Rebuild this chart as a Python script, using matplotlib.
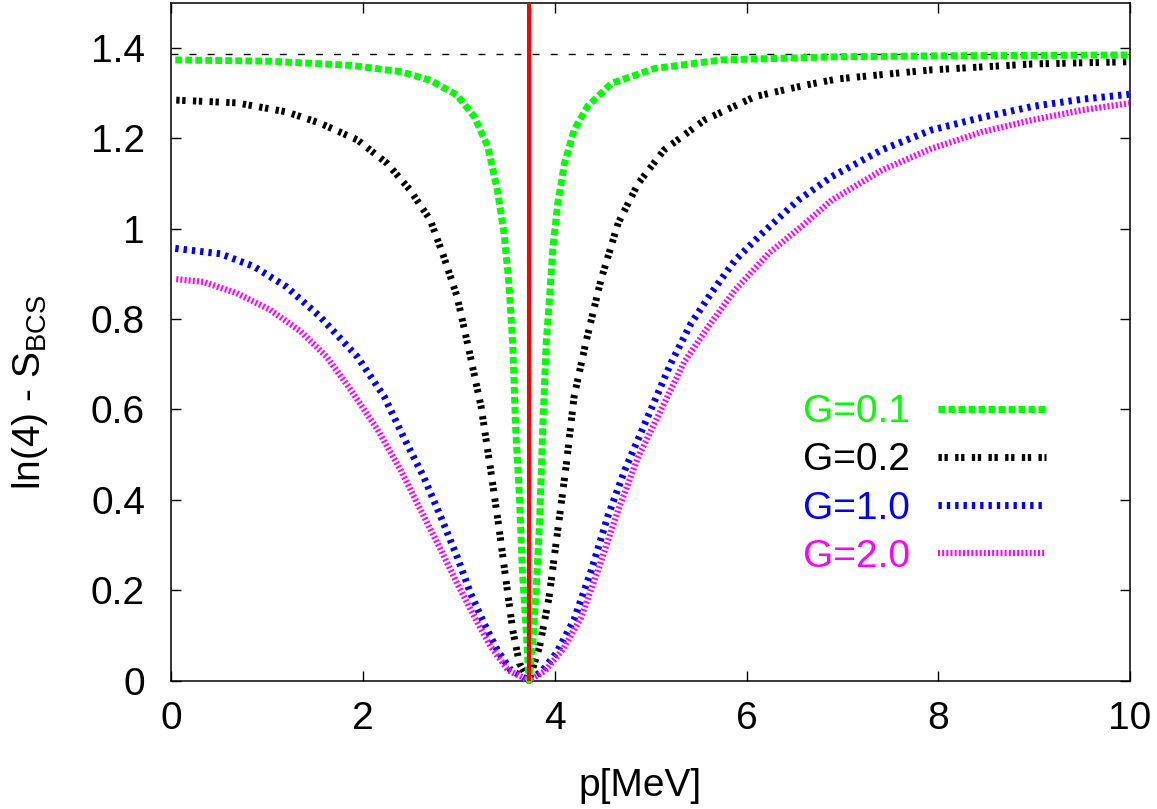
import numpy as np
import matplotlib
matplotlib.use('Agg')
import matplotlib.pyplot as plt

plt.rcParams['font.family'] = ['Liberation Sans', 'DejaVu Sans']
plt.rcParams['lines.scale_dashes'] = False

# values
p_g01 = [0.04, 1.03, 1.87, 2.39, 2.70, 2.98, 3.16, 3.30, 3.40, 3.47, 3.52, 3.56, 3.59, 3.63,
         3.66, 3.70, 3.73, 3.77, 3.80, 3.84, 3.87, 3.91, 3.94, 3.98, 4.03, 4.10, 4.20, 4.34,
         4.59, 5.04, 5.74, 6.96, 8.0, 9.0, 10.0]
s_g01 = [1.373, 1.370, 1.361, 1.347, 1.328, 1.295, 1.247, 1.181, 1.085, 0.989, 0.879, 0.745,
         0.561, 0.407, 0.244, 0.112, 0.0, 0.09, 0.185, 0.35, 0.54, 0.75, 0.834, 0.960, 1.056,
         1.144, 1.218, 1.270, 1.321, 1.354, 1.373, 1.380, 1.382, 1.383, 1.384]

p_g02 = [0.05, 0.68, 1.20, 1.55, 1.94, 2.25, 2.49, 2.70, 2.84, 2.98, 3.10, 3.23, 3.33, 3.42,
         3.49, 3.56, 3.63, 3.73, 3.84, 3.94, 4.03, 4.12, 4.20, 4.32, 4.48, 4.66, 4.87, 5.14,
         5.56, 6.09, 6.61, 6.95, 7.93, 8.98, 9.99]
s_g02 = [1.284, 1.278, 1.258, 1.233, 1.196, 1.144, 1.085, 1.019, 0.938, 0.849, 0.735, 0.606,
         0.466, 0.333, 0.222, 0.112, 0.038, 0.0, 0.075, 0.185, 0.333, 0.48, 0.628, 0.745,
         0.886, 1.012, 1.100, 1.174, 1.240, 1.292, 1.317, 1.331, 1.351, 1.364, 1.369]

p_g10 = [0.04, 0.51, 0.86, 1.20, 1.55, 1.94, 2.22, 2.42, 2.63, 2.81, 2.98, 3.12, 3.26, 3.40,
         3.54, 3.73, 3.87, 4.02, 4.20, 4.38, 4.55, 4.73, 4.97, 5.21, 5.42, 5.63, 5.88, 6.16,
         6.54, 6.89, 7.41, 7.93, 8.46, 8.98, 9.50, 9.99]
s_g10 = [0.956, 0.944, 0.916, 0.871, 0.805, 0.716, 0.628, 0.539, 0.451, 0.362, 0.274, 0.193,
         0.127, 0.067, 0.023, 0.0, 0.022, 0.062, 0.135, 0.244, 0.362, 0.466, 0.584, 0.702,
         0.790, 0.857, 0.930, 0.989, 1.063, 1.115, 1.174, 1.218, 1.246, 1.270, 1.286, 1.297]

p_g20 = [0.05, 0.33, 0.68, 1.03, 1.35, 1.62, 1.87, 2.15, 2.39, 2.60, 2.81, 2.98, 3.16, 3.33,
         3.51, 3.73, 3.90, 4.08, 4.27, 4.45, 4.66, 4.87, 5.11, 5.35, 5.60, 5.88, 6.23, 6.57,
         6.89, 7.41, 7.93, 8.46, 8.98, 9.50, 9.99]
s_g20 = [0.888, 0.882, 0.857, 0.820, 0.772, 0.716, 0.643, 0.555, 0.466, 0.377, 0.289, 0.215,
         0.141, 0.075, 0.023, 0.0, 0.022, 0.068, 0.138, 0.244, 0.377, 0.495, 0.60, 0.705,
         0.783, 0.864, 0.945, 1.004, 1.063, 1.129, 1.177, 1.214, 1.240, 1.262, 1.277]

p_fermi = 3.73
ln4 = np.log(4)

xticks = [0, 2, 4, 6, 8, 10]
yticks = [0, 0.2, 0.4, 0.6, 0.8, 1.0, 1.2, 1.4]
ytick_labels = ['0', '0.2', '0.4', '0.6', '0.8', '1', '1.2', '1.4']

fig = plt.figure(figsize=(11.57, 8.09), dpi=100)
ax = fig.add_axes([0.1482, 0.1588, 0.8285, 0.8381])

ax.axhline(ln4, color='black', lw=1.0, dashes=(5, 8))
ax.axvline(p_fermi, color='#ff0000', lw=2.9, zorder=5)

l1, = ax.plot(p_g01, s_g01, color='#00ff00', lw=5, dashes=(4.8, 2.4), clip_on=False, zorder=4)
l2, = ax.plot(p_g02, s_g02, color='black', lw=5, dashes=(2.4, 1.9, 2.4, 5.3), clip_on=False, zorder=3)
l3, = ax.plot(p_g10, s_g10, color='#0000ff', lw=5, dashes=(2.4, 3.6), clip_on=False, zorder=3)
l4, = ax.plot(p_g20, s_g20, color='#ff00ff', lw=4.5, dashes=(1.4, 1.6), clip_on=False, zorder=3)

ax.set_xlim(0, 10)
ax.set_ylim(0, 1.5)
ax.set_xticks(xticks)
ax.set_xticklabels([str(t) for t in xticks])
ax.set_yticks(yticks)
ax.set_yticklabels(ytick_labels)
ax.tick_params(axis='both', direction='in', length=7, width=1, labelsize=28,
               top=True, right=True)
ax.tick_params(axis='x', pad=15)
ax.tick_params(axis='y', pad=19)
for sp in ax.spines.values():
    sp.set_linewidth(1.1)

ax.set_xlabel('p[MeV]', fontsize=28)
ax.xaxis.set_label_coords(0.489, -0.129)
ax.xaxis.label.set_va('top')
ax.set_ylabel(r'ln(4) - S$_\mathregular{BCS}$', fontsize=28)
ax.yaxis.set_label_coords(-0.127, 0.425)

ax.legend([l1, l2, l3, l4], ['G=0.1', 'G=0.2', 'G=1.0', 'G=2.0'],
          loc='upper right', bbox_to_anchor=(0.912, 0.422), frameon=False,
          markerfirst=False, labelcolor='linecolor', fontsize=28,
          handlelength=2.78, handletextpad=0.72, labelspacing=0.31,
          borderpad=0, borderaxespad=0)

fig.savefig('out.png', dpi=100)
